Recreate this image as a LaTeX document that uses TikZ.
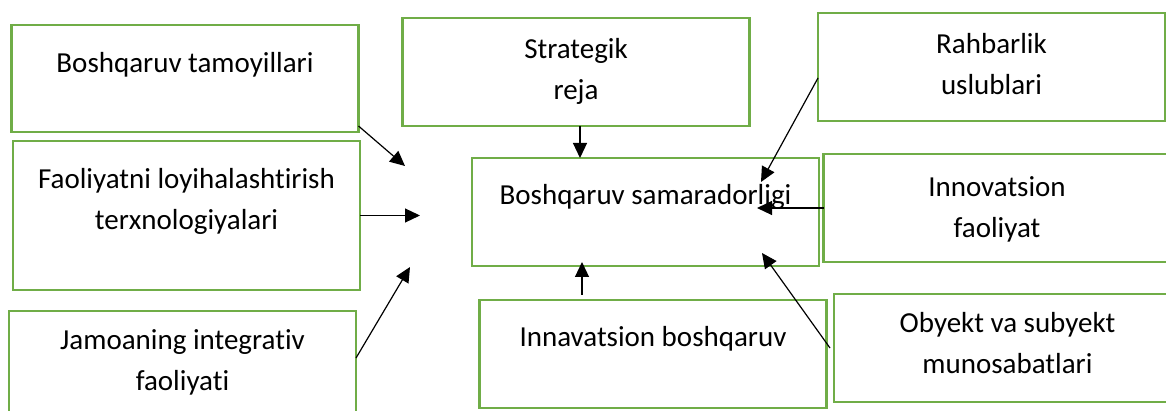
\documentclass[tikz,border=0pt]{standalone}
\usepackage{fontspec}
\setmainfont{Carlito}[Ligatures=NoCommon]
\usetikzlibrary{arrows.meta}
\definecolor{boxgreen}{RGB}{112,173,71}

\begin{document}
\begin{tikzpicture}[x=1pt,y=-1pt,
    box/.style={draw=boxgreen,line width=2.6pt,outer sep=0pt,inner sep=0pt},
    txt/.style={anchor=north,inner sep=0pt,align=center,font=\fontsize{29}{41}\selectfont},
    arr/.style={-{Triangle[length=15pt,width=14pt]},line width=1.2pt}]
    \pgfmathsetmacro{\bw}{347}
    \clip (0,0) rectangle (1166,411);
    % Draw boxes with their texts
    \foreach \nm/\cx/\cy/\bh/\ty/\txt in {
        tam/185/78.5/107/52.5/{Boshqaruv tamoyillari},
        fao/186.5/215.5/149/168.5/{Faoliyatni loyihalashtirish\\terxnologiyalari},
        jam/182.5/365/108/329.5/{Jamoaning integrativ\\faoliyati},
        strat/576/72/108/38.5/{Strategik\\reja},
        sam/645.5/212/108/184.5/{Boshqaruv samaradorligi},
        innav/653/354/108/326.5/{Innavatsion boshqaruv},
        rah/991.5/67/108/33.5/{Rahbarlik\\uslublari},
        innov/997/208/108/176.7/{Innovatsion\\faoliyat},
        oby/1007.5/348/108/312.5/{Obyekt va subyekt\\munosabatlari}} {
        \node[box,minimum width=\bw pt,minimum height=\bh pt] (\nm) at (\cx,\cy) {};
        \node[txt] (\nm-t) at (\cx,\ty) {\txt};
    }
    % Free arrow ends
    \coordinate (e-tam) at (405,166);
    \coordinate (e-fao) at (420,215.5);
    \coordinate (e-jam) at (410,267);
    \coordinate (e-innav) at (582,262);
    \coordinate (e-rah) at (761,182);
    \coordinate (e-innov) at (757,208);
    \coordinate (e-oby) at (762,253);
    % Draw arrows
    \draw[arr] ([yshift=6pt]tam.south east) -- (e-tam);
    \draw[arr] (fao.east) -- (e-fao);
    \draw[arr] ([yshift=7pt]jam.east) -- (e-jam);
    \draw[arr] ([xshift=4pt]strat.south) -- ([xshift=4pt]strat.south |- sam.north);
    \draw[arr] ([yshift=5pt]innav.north -| e-innav) -- (e-innav);
    \draw[arr] ([yshift=-11pt]rah.west) -- (e-rah);
    \draw[arr] (innov.west) -- (e-innov);
    \draw[arr] ([xshift=-4pt]oby.west) -- (e-oby);
\end{tikzpicture}
\end{document}
